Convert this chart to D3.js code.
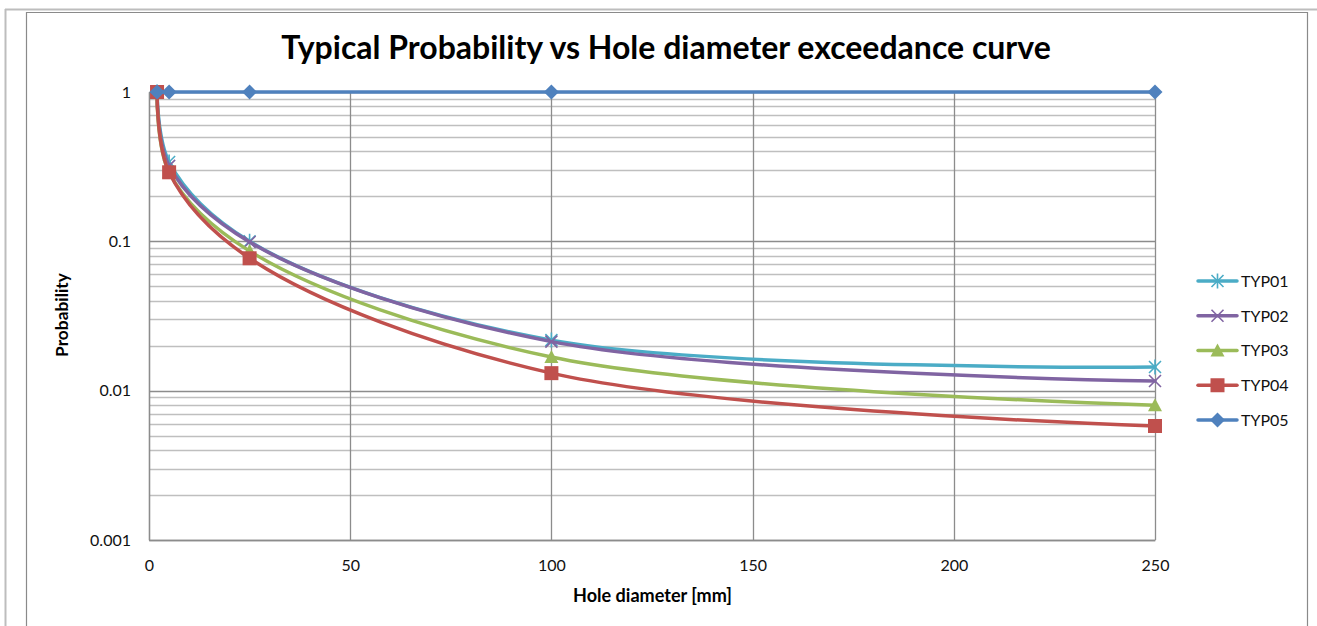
<!DOCTYPE html>
<html><head><meta charset="utf-8">
<script src="https://cdn.jsdelivr.net/npm/d3@7"></script>
<style>body{margin:0;background:#fff}svg{display:block}text{font-family:Lato,"Open Sans",sans-serif}</style>
</head><body>
<script>
const xValues = [2, 5, 25, 100, 250];
const seriesNames = ["TYP01", "TYP02", "TYP03", "TYP04", "TYP05"];
const typ01 = [1, 0.34, 0.100, 0.0218, 0.0144];
const typ02 = [1, 0.32, 0.099, 0.0213, 0.0116];
const typ03 = [1, 0.29, 0.086, 0.0168, 0.0080];
const typ04 = [1, 0.29, 0.077, 0.0131, 0.0058];
const typ05 = [1, 1, 1, 1, 1];
const seriesColors = ["#4BACC6", "#8064A2", "#9BBB59", "#C0504D", "#4F81BD"];
const seriesMarkers = ["asterisk", "x", "triangle", "square", "diamond"];
const xTicks = [0, 50, 100, 150, 200, 250];
const yTicks = [0.001, 0.01, 0.1, 1];
const yTickLabels = ["0.001", "0.01", "0.1", "1"];
const titleText = "Typical Probability vs Hole diameter exceedance curve";
const xTitle = "Hole diameter [mm]";
const yTitle = "Probability";

const allValues = [typ01, typ02, typ03, typ04, typ05];
const W = 1317, H = 626;
const svg = d3.select("body").append("svg").attr("width", W).attr("height", H);

// frames
svg.append("line").attr("x1",5).attr("x2",W).attr("y1",9.5).attr("y2",9.5).attr("stroke","#bdbdbd").attr("stroke-width",2);
svg.append("line").attr("x1",5.5).attr("x2",5.5).attr("y1",9).attr("y2",H).attr("stroke","#bdbdbd").attr("stroke-width",2);
svg.append("path").attr("d",`M26.5,${H} V12.5 H1307.5 V${H}`).attr("fill","none").attr("stroke","#8a8a8a").attr("stroke-width",1.2);

const x = d3.scaleLinear().domain([0,250]).range([149,1155]);
const y = d3.scaleLog().domain([0.001,1]).range([540,92]);

const g = svg.append("g");
// minor horizontal grid
const minor = [];
for (let e=-3; e<0; e++) for (let m=2; m<=9; m++) minor.push(m*Math.pow(10,e));
g.selectAll(".minor").data(minor).join("line")
  .attr("x1",x(0)).attr("x2",x(250))
  .attr("y1",d=>Math.round(y(d))+0.5).attr("y2",d=>Math.round(y(d))+0.5)
  .attr("stroke","#bfbfbf").attr("stroke-width",1.3);
g.selectAll(".major").data(yTicks).join("line")
  .attr("x1",x(0)).attr("x2",x(250))
  .attr("y1",d=>Math.round(y(d))+0.5).attr("y2",d=>Math.round(y(d))+0.5)
  .attr("stroke","#8c8c8c").attr("stroke-width",1.3);
g.selectAll(".vgrid").data(xTicks).join("line")
  .attr("x1",d=>Math.round(x(d))+0.5).attr("x2",d=>Math.round(x(d))+0.5)
  .attr("y1",y(1)).attr("y2",y(0.001))
  .attr("stroke","#8c8c8c").attr("stroke-width",1.3);

// axes via d3
const yAxis = d3.axisLeft(y).tickValues(yTicks).tickFormat((d,i)=>yTickLabels[i]).tickSize(0).tickPadding(18);
const ya = svg.append("g").attr("transform",`translate(${x(0)},0)`).call(yAxis);
ya.select(".domain").attr("stroke","#8c8c8c").attr("stroke-width",1.3);
ya.selectAll("text").attr("font-size",16).attr("fill","#111").style("font-family","Lato");
const xAxis = d3.axisBottom(x).tickValues(xTicks).tickFormat(d3.format("d")).tickSize(0).tickPadding(20);
const xa = svg.append("g").attr("transform",`translate(0,${y(0.001)})`).call(xAxis);
xa.select(".domain").attr("stroke","#8c8c8c").attr("stroke-width",1.3);
xa.selectAll("text").attr("font-size",16).attr("fill","#111").style("font-family","Lato");

function fit(sel, target) {
  let fs = 20; sel.attr("font-size", fs);
  const w = sel.node().getComputedTextLength();
  sel.attr("font-size", fs*target/w);
}
const title = svg.append("text").attr("x",666).attr("y",59).attr("text-anchor","middle")
  .attr("font-weight","bold").attr("fill","#000").text(titleText);
fit(title, 770);
const xt = svg.append("text").attr("x",652.5).attr("y",602).attr("text-anchor","middle")
  .attr("font-weight","bold").attr("fill","#000").text(xTitle);
fit(xt, 159);
const yt = svg.append("text").attr("transform","translate(68,315) rotate(-90)").attr("text-anchor","middle")
  .attr("font-weight","bold").attr("fill","#000").text(yTitle);
fit(yt, 84);

function marker(sel, type, color) {
  if (type==="square") sel.append("rect").attr("x",-7).attr("y",-7).attr("width",14).attr("height",14).attr("fill",color);
  else if (type==="diamond") sel.append("path").attr("d","M0,-7.5L7.5,0L0,7.5L-7.5,0Z").attr("fill",color);
  else if (type==="triangle") sel.append("path").attr("d","M0,-7L7,6L-7,6Z").attr("fill",color);
  else if (type==="x") sel.append("path").attr("d","M-6,-6L6,6M-6,6L6,-6").attr("stroke",color).attr("stroke-width",1.6).attr("fill","none");
  else if (type==="asterisk") sel.append("path").attr("d","M-6,-6L6,6M-6,6L6,-6M0,-7.5V7.5").attr("stroke",color).attr("stroke-width",1.6).attr("fill","none");
}

const line = d3.line().x(d=>x(d[0])).y(d=>y(d[1])).curve(d3.curveCatmullRom.alpha(0.5));
allValues.forEach((vals,i)=>{
  const pts = xValues.map((xv,j)=>[xv, vals[j]]);
  const sg = svg.append("g");
  sg.append("path").attr("d",line(pts)).attr("fill","none").attr("stroke",seriesColors[i]).attr("stroke-width",3.5).attr("stroke-linecap","round");
  pts.forEach(p=>{ marker(sg.append("g").attr("transform",`translate(${x(p[0])},${y(p[1])})`), seriesMarkers[i], seriesColors[i]); });
});

// legend
const lg = svg.append("g");
seriesNames.forEach((n,i)=>{
  const yy = 281 + i*34.75;
  lg.append("line").attr("x1",1198).attr("x2",1237).attr("y1",yy).attr("y2",yy).attr("stroke",seriesColors[i]).attr("stroke-width",3.5).attr("stroke-linecap","round");
  marker(lg.append("g").attr("transform",`translate(1217.5,${yy})`), seriesMarkers[i], seriesColors[i]);
  lg.append("text").attr("x",1241).attr("y",yy).attr("dy","0.36em").attr("font-size",16).attr("fill","#111").text(n);
});
</script>
</body></html>
